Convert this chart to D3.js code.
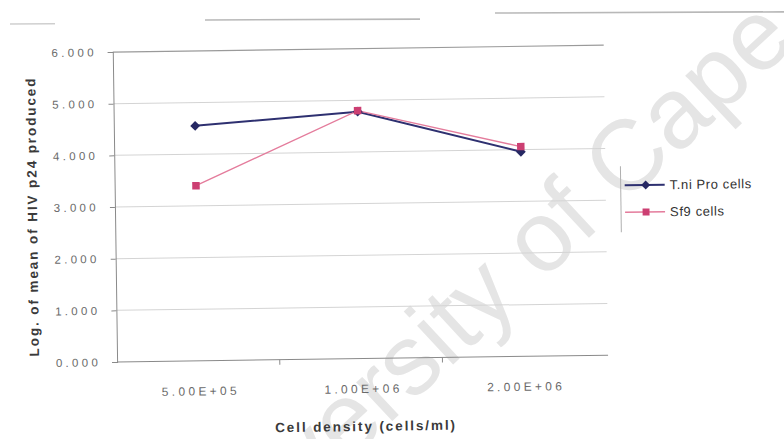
<!DOCTYPE html>
<html>
<head>
<meta charset="utf-8">
<script src="https://cdn.jsdelivr.net/npm/d3@7"></script>
<style>
  html, body { margin: 0; padding: 0; background: #fff; }
  svg { display: block; }
</style>
</head>
<body>
<script>
// Category axis: cell density (cells/ml)
const categories = ["5.00E+05", "1.00E+06", "2.00E+06"];
// Log of mean HIV p24 produced, per cell line
const tniValues = [4.55, 4.78, 3.96];
const sf9Values = [3.39, 4.80, 4.06];
const seriesNames = ["T.ni Pro cells", "Sf9 cells"];
const yTicks = [0, 1, 2, 3, 4, 5, 6];
const xTitle = "Cell density (cells/ml)";
const yTitle = "Log. of mean of HIV p24 produced";
const watermark = "University of Cape Town";

const W = 784, H = 439;
const svg = d3.select("body").append("svg")
  .attr("width", W).attr("height", H);

svg.append("rect").attr("width", W).attr("height", H).attr("fill", "#fff");

// faint diagonal watermark behind the chart
svg.append("text")
  .attr("transform", "translate(594,233) rotate(-43)")
  .attr("text-anchor", "middle")
  .attr("font-family", "'Liberation Sans', Arial, sans-serif")
  .attr("font-size", 100)
  .attr("fill", "#e5e5e5")
  .text(watermark);

// rules along the top of the page
const rules = [[10, 55, 24, 1], [205, 420, 20, 1.6], [495, 784, 13, 1.6]];
svg.selectAll("line.rule").data(rules).join("line")
  .attr("class", "rule")
  .attr("x1", d => d[0]).attr("x2", d => d[1])
  .attr("y1", d => d[2]).attr("y2", d => d[2] - (d[1] - d[0]) * 0.004)
  .attr("stroke", "#b8b8b8").attr("stroke-width", d => d[3]);

// the whole chart sits slightly tilted
const g = svg.append("g").attr("transform", "rotate(-0.8,360,210)");

const x = d3.scaleBand().domain(categories).range([115, 603]);
const y = d3.scaleLinear().domain([0, 6]).range([358.6, 48.6]);
const fmt = d3.format(".3f");

// horizontal gridlines
g.selectAll("line.grid").data(yTicks.filter(t => t > 0)).join("line")
  .attr("class", "grid")
  .attr("x1", x.range()[0]).attr("x2", x.range()[1] + 3)
  .attr("y1", d => y(d)).attr("y2", d => y(d))
  .attr("stroke", d => d === 6 ? "#9a9a9a" : "#d4d4d4")
  .attr("stroke-width", d => d === 6 ? 1.2 : 1);

// y axis
const yAxis = g.append("g")
  .attr("transform", `translate(${x.range()[0]},0)`)
  .call(d3.axisLeft(y).tickValues(yTicks).tickFormat(fmt).tickSize(5).tickPadding(11));
yAxis.select(".domain").attr("stroke", "#8a8a8a");
yAxis.selectAll(".tick line").attr("stroke", "#8a8a8a");
yAxis.selectAll(".tick text")
  .attr("font-family", "'Liberation Sans', Arial, sans-serif")
  .attr("font-size", 11.5)
  .attr("letter-spacing", 3.3)
  .attr("fill", "#6a6a6a");

// x axis
const xAxis = g.append("g")
  .attr("transform", `translate(0,${y(0)})`)
  .call(d3.axisBottom(x).tickSize(0).tickPadding(26));
xAxis.select(".domain").attr("stroke", "#8a8a8a").attr("d", `M${x.range()[0]},0H${x.range()[1] + 3}`);
xAxis.selectAll(".tick text")
  .attr("dx", 2)
  .attr("font-family", "'Liberation Sans', Arial, sans-serif")
  .attr("font-size", 12)
  .attr("letter-spacing", 3.3)
  .attr("fill", "#6a6a6a");
// category boundary ticks
g.selectAll("line.xtick").data(categories.slice(1)).join("line")
  .attr("class", "xtick")
  .attr("x1", d => x(d)).attr("x2", d => x(d))
  .attr("y1", y(0)).attr("y2", y(0) + 5)
  .attr("stroke", "#8a8a8a");

// axis titles
g.append("text")
  .attr("x", 363).attr("y", 431)
  .attr("text-anchor", "middle")
  .attr("font-family", "'Liberation Sans', Arial, sans-serif")
  .attr("font-weight", "bold")
  .attr("font-size", 13.5)
  .attr("letter-spacing", 1.9)
  .attr("fill", "#3a3a3a")
  .text(xTitle);

g.append("text")
  .attr("transform", "translate(37,212) rotate(-90)")
  .attr("text-anchor", "middle")
  .attr("font-family", "'Liberation Sans', Arial, sans-serif")
  .attr("font-weight", "bold")
  .attr("font-size", 13.5)
  .attr("letter-spacing", 1.9)
  .attr("fill", "#3a3a3a")
  .text(yTitle);

// series
const series = [
  { name: seriesNames[0], values: tniValues, line: "#2e3070", mark: "#262863", rot: 45, size: 48, width: 2 },
  { name: seriesNames[1], values: sf9Values, line: "#e47c9c", mark: "#cc3f72", rot: 0, size: 56, width: 1.4 }
];
const cx = d => x(d) + x.bandwidth() / 2;
const line = d3.line().x((d, i) => cx(categories[i])).y(d => y(d));
const marker = d3.symbol().type(d3.symbolSquare);

series.forEach(s => {
  g.append("path")
    .attr("d", line(s.values))
    .attr("fill", "none")
    .attr("stroke", s.line)
    .attr("stroke-width", s.width);
});
series.forEach(s => {
  g.selectAll(null).data(s.values).join("path")
    .attr("transform", (d, i) => `translate(${cx(categories[i])},${y(d)}) rotate(${s.rot})`)
    .attr("d", marker.size(s.size)())
    .attr("fill", s.mark);
});

// legend
const leg = g.append("g");
leg.append("line")
  .attr("x1", 621).attr("x2", 621).attr("y1", 170).attr("y2", 236)
  .attr("stroke", "#b0b0b0");
series.forEach((s, i) => {
  const ly = 189 + i * 27;
  leg.append("line")
    .attr("x1", 625).attr("x2", 665).attr("y1", ly).attr("y2", ly)
    .attr("stroke", s.line).attr("stroke-width", s.width);
  leg.append("path")
    .attr("transform", `translate(646,${ly}) rotate(${s.rot})`)
    .attr("d", marker.size(s.size - 8)())
    .attr("fill", s.mark);
  leg.append("text")
    .attr("x", 670).attr("y", ly)
    .attr("dy", "0.35em")
    .attr("font-family", "'Liberation Sans', Arial, sans-serif")
    .attr("font-size", 13)
    .attr("letter-spacing", 0.6)
    .attr("fill", "#333")
    .text(s.name);
});
</script>
</body>
</html>
